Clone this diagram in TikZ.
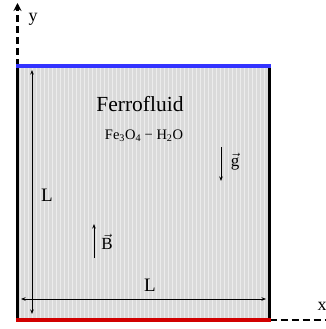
\documentclass[tikz,border=0pt]{standalone}
\usepackage{fontspec}
\setmainfont{Liberation Serif}
\usetikzlibrary{arrows.meta}
\definecolor{fluid}{RGB}{218,218,218}
\definecolor{topblue}{RGB}{51,51,255}
\definecolor{botred}{RGB}{210,0,0}
\begin{document}
\begin{tikzpicture}[x=1pt,y=-1pt,
  dim/.style={line width=0.8pt,{Stealth[length=4.5pt,width=3.5pt]}-{Stealth[length=4.5pt,width=3.5pt]}},
  vecarrow/.style={line width=0.8pt,-{Stealth[length=4.5pt,width=3.5pt]}},
  axisline/.style={line width=2.6pt,dash pattern=on 7pt off 4pt},
  lbl/.style={inner sep=0pt,font=\fontsize{19}{19}\selectfont}]
\useasboundingbox (0,0) rectangle (325,329);
\coordinate (BL) at (17.5,320);
\coordinate (TL) at (17.5,66);
\coordinate (TR) at (269.5,66);
\coordinate (BR) at (269.5,320);
% fluid fill with light plaid texture
\fill[fluid] (BL) rectangle (TR);
\begin{scope}
  \clip (BL) rectangle (TR);
  \draw[white,line width=0.9pt,opacity=0.5,step=4] (0,60) grid (276,324);
\end{scope}
% axes
\coordinate (yend) at (17.5,3);
\coordinate (xend) at (327,320);
\draw[axisline,-{Stealth[length=8pt,width=8pt]}] (TL) -- (yend);
\draw[axisline] (BR) -- (xend);
\node[inner sep=0pt,font=\fontsize{18}{18}\selectfont] (ylab) at (33,19) {y};
\node[inner sep=0pt,font=\fontsize{18}{18}\selectfont] (xlab) at (322,306) {x};
% walls
\draw[line width=3pt] (BL) -- (TL);
\draw[line width=3pt] (BR) -- (TR);
\draw[topblue,line width=4.5pt] ([xshift=-1.5pt]TL) -- ([xshift=1.5pt]TR);
\draw[botred,line width=4.5pt] ([xshift=-1.5pt]BL) -- ([xshift=1.5pt]BR);
% dimensions
\coordinate (vtop) at (32,70);
\coordinate (vbot) at (32,314);
\coordinate (hleft) at (21,299);
\coordinate (hright) at (266,299);
\draw[dim] (vtop) -- (vbot);
\draw[dim] (hleft) -- (hright);
\node[lbl] (Lv) at (47,195) {L};
\node[lbl] (Lh) at (150,285) {L};
% texts
\node[inner sep=0pt,font=\fontsize{21.5}{21.5}\selectfont] (title) at (140,104) {Ferrofluid};
\node[inner sep=0pt,font=\fontsize{14.5}{14.5}\selectfont] (chem) at (144,136) {Fe\textsubscript{3}O\textsubscript{4} − H\textsubscript{2}O};
% vectors
\coordinate (gtop) at (221,147);
\coordinate (gbot) at (221,181);
\draw[vecarrow] (gtop) -- (gbot);
\node[inner sep=0pt,font=\fontsize{17}{17}\selectfont] (glab) at (235,162) {$\vec{\mathrm{g}}$};
\coordinate (bbot) at (94,258);
\coordinate (btop) at (94,224);
\draw[vecarrow] (bbot) -- (btop);
\node[inner sep=0pt,font=\fontsize{17}{17}\selectfont] (blab) at (107,242) {$\vec{\mathrm{B}}$};
\end{tikzpicture}
\end{document}
